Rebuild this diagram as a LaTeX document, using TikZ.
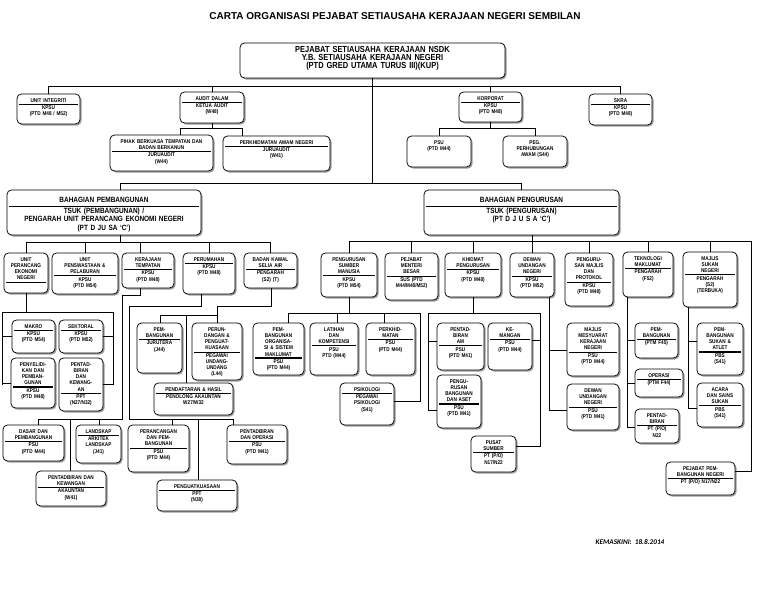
\documentclass[tikz,border=0pt]{standalone}
\usepackage{fontspec}
\setmainfont{Liberation Sans}
\newfontfamily\nar[FakeStretch=0.85]{Liberation Sans}
\newfontfamily\kemfont{Carlito}
\usetikzlibrary{fit,shadows}
\newcommand\dv{\\[-3pt]\rule[0.8pt]{\linewidth}{0.6pt}\\[-2pt]}
\newcommand\dvt{\\[-3pt]\rule[0.5pt]{\linewidth}{1.2pt}\\[-2pt]}
\newcommand\bx[7][]{%
  \node[box, fit={(#3,#4) (#5,#6)}] (#2) {};
  \pgfmathsetmacro\tw{#5-#3-4}%
  \node[txt, text width=\tw pt, anchor=north, #1] (#2-t) at ([yshift=-5pt]#2.north) {#7};
}
\begin{document}
\begin{tikzpicture}[x=1pt,y=-1pt,
  box/.style={draw, line width=0.75pt, rounded corners=4.5pt, fill=white, inner sep=0pt,
    drop shadow={shadow xshift=1.5pt, shadow yshift=-1.5pt, fill=black!55, opacity=0.7}},
  txt/.style={inner sep=0pt, align=center, font=\nar\fontsize{5.5}{6.1}\selectfont\bfseries},
  bah/.style={font=\nar\fontsize{7.6}{7.8}\selectfont\bfseries, yshift=-2.5pt},
  ln/.style={line width=0.7pt}]
\fill[white] (0,0) rectangle (768,594);
\useasboundingbox (0,0) rectangle (768,594);

\node[font=\fontsize{10}{12}\selectfont\bfseries] (title) at (395,16) {CARTA ORGANISASI PEJABAT SETIAUSAHA KERAJAAN NEGERI SEMBILAN};

% ---------- boxes ----------
\bx[font=\nar\fontsize{8.8}{7.7}\selectfont\bfseries, yshift=1pt]{top}{240}{43}{505}{78}{PEJABAT SETIAUSAHA KERAJAAN NSDK\\Y.B. SETIAUSAHA KERAJAAN NEGERI\\(PTD GRED UTAMA TURUS III)(KUP)}
\bx{ui}{17}{94}{80}{124}{UNIT INTEGRITI\dv KPSU\\(PTD M48 / M52)}
\bx{audit}{180}{92}{244}{123}{AUDIT DALAM\dvt KETUA AUDIT\\(W48)}
\bx{pbt}{110}{135}{213}{171}{PIHAK BERKUASA TEMPATAN DAN\\BADAN BERKANUN\dv JURUAUDIT\\(W44)}
\bx{pan}{223}{136}{330}{171}{PERKHIDMATAN AWAM NEGERI\dvt JURUAUDIT\\(W41)}
\bx{korp}{459}{92}{522}{122}{KORPORAT\dvt KPSU\\(PTD M48)}
\bx{psu1}{407}{136}{471}{167}{PSU\\(PTD M44)}
\bx{peg}{503}{136}{567}{167}{PEG.\\PERHUBUNGAN\\AWAM (S44)}
\bx{skra}{589}{94}{652}{125}{SKRA\dv KPSU\\(PTD M48)}

\bx[bah]{bpem}{7}{190}{201}{235}{BAHAGIAN PEMBANGUNAN\dvt TSUK (PEMBANGUNAN) /\\PENGARAH UNIT PERANCANG EKONOMI NEGERI\\[1.5pt](PT D JU SA ‘C’)}
\bx[bah]{bpeng}{424}{190}{619}{235}{BAHAGIAN PENGURUSAN\dvt TSUK (PENGURUSAN)\\(PT D J U S A ‘C’)}

\bx{upen}{4}{253}{48}{293}{UNIT\\PERANCANG\\EKONOMI\\NEGERI\\[-3pt]\rule[0.8pt]{\linewidth}{0.6pt}}
\bx{upp}{52}{253}{118}{294}{UNIT\\PENSWASTAAN \&\\PELABURAN\dvt KPSU\\(PTD M54)}
\bx{kt}{122}{253}{174}{288}{KERAJAAN\\TEMPATAN\dvt KPSU\\(PTD M48)}
\bx{perum}{183}{253}{235}{294}{PERUMAHAN\dv KPSU\\(PTD M48)}
\bx{bksa}{244}{253}{297}{288}{BADAN KAWAL\\SELIA AIR\dvt PENGARAH\\(S2) (T)}
\bx{psm}{321}{253}{377}{297}{PENGURUSAN\\SUMBER\\MANUSIA\dvt KPSU\\(PTD M54)}
\bx{pmb}{385}{253}{438}{300}{PEJABAT\\MENTERI\\BESAR\dv SUS (PTD\\M44/M48/M52)}
\bx{kp}{445}{253}{501}{297}{KHIDMAT\\PENGURUSAN\dv KPSU\\(PTD M48)}
\bx{dun}{510}{253}{554}{297}{DEWAN\\UNDANGAN\\NEGERI\dv KPSU\\(PTD M52)}
\bx{pmp}{565}{253}{613}{306}{PENGURU-\\SAN MAJLIS\\DAN\\PROTOKOL\dv KPSU\\(PTD M48)}
\bx{tm}{623}{252}{673}{297}{TEKNOLOGI\\MAKLUMAT\dv PENGARAH\\(F52)}
\bx{msn}{683}{252}{737}{307}{MAJLIS\\SUKAN\\NEGERI\dvt PENGARAH\\(S2)\\(TERBUKA)}

\bx{makro}{12}{320}{55}{353}{MAKRO\dv KPSU\\(PTD M54)}
\bx{sekt}{59}{320}{103}{353}{SEKTORAL\dv KPSU\\(PTD M52)}
\bx{penyel}{11}{358}{55}{408}{PENYELIDI-\\KAN DAN\\PEMBAN-\\GUNAN\dvt KPSU\\(PTD M48)}
\bx{pentk}{59}{358}{103}{411}{PENTAD-\\BIRAN\\DAN\\KEWANG-\\AN\dv PPT\\(N27/N32)}
\bx{pemjur}{137}{323}{182}{373}{PEM-\\BANGUNAN\dvt JURUTERA\\(J44)}
\bx{perund}{192}{323}{242}{380}{PERUN-\\DANGAN \&\\PENGUAT-\\KUASAAN\dv PEGAWAI\\UNDANG-\\UNDANG\\(L44)}
\bx{pendaf}{154}{383}{233}{415}{PENDAFTARAN \& HASIL\dv PENOLONG AKAUNTAN\\W27/W32}
\bx{dasar}{3}{425}{64}{461}{DASAR DAN\\PEMBANGUNAN\dv PSU\\(PTD M44)}
\bx{landskap}{76}{425}{121}{463}{LANDSKAP\dvt ARKITEK\\LANDSKAP\\(J41)}
\bx{pentak}{36}{471}{106}{506}{PENTADBIRAN DAN\\KEWANGAN\dv AKAUNTAN\\(W41)}
\bx{peranc}{128}{425}{189}{472}{PERANCANGAN\\DAN PEM-\\BANGUNAN\dv PSU\\(PTD M44)}
\bx{penguat}{157}{480}{237}{511}{PENGUATKUASAAN\dv PPT\\(N38)}
\bx{pentop}{227}{425}{287}{464}{PENTADBIRAN\\DAN OPERASI\dv PSU\\(PTD M41)}

\bx{pemorg}{253}{323}{304}{375}{PEM-\\BANGUNAN\\ORGANISA-\\SI \& SISTEM\\MAKLUMAT\dvt PSU\\(PTD M44)}
\bx{latihan}{310}{323}{358}{375}{LATIHAN\\DAN\\KOMPETENSI\dvt PSU\\PTD (M44)}
\bx{perkhid}{366}{323}{415}{375}{PERKHID-\\MATAN\dv PSU\\(PTD M44)}
\bx{psiko}{340}{383}{394}{425}{PSIKOLOGI\dv PEGAWAI\\PSIKOLOGI\\(S41)}
\bx{pam}{437}{323}{484}{370}{PENTAD-\\BIRAN\\AM\dvt PSU\\(PTD M41)}
\bx{kem}{488}{323}{532}{370}{KE-\\MANGAN\dvt PSU\\(PTD M44)}
\bx{pba}{437}{375}{481}{428}{PENGU-\\RUSAN\\BANGUNAN\\DAN ASET\dvt PSU\\(PTD M41)}
\bx{pusat}{471}{436}{516}{472}{PUSAT\\SUMBER\dv PT (P/O)\\N17/N22}
\bx{mmkn}{567}{323}{619}{376}{MAJLIS\\MESYUARAT\\KERAJAAN\\NEGERI\dv PSU\\(PTD M44)}
\bx{dun2}{567}{384}{619}{430}{DEWAN\\UNDANGAN\\NEGERI\dv PSU\\(PTD M41)}
\bx{pemtm}{635}{323}{678}{358}{PEM-\\BANGUNAN\dvt (PTM F45)}
\bx{operasi}{635}{369}{683}{397}{OPERASI\dv (PTM F44)}
\bx{pentm}{635}{409}{679}{443}{PENTAD-\\BIRAN\dvt PT (P/O)\\N22}
\bx{pemsukan}{697}{323}{743}{375}{PEM-\\BANGUNAN\\SUKAN \&\\ATLET\dvt PBS\\(S41)}
\bx{acara}{697}{383}{743}{427}{ACARA\\DAN SAINS\\SUKAN\dvt PBS\\(S41)}
\bx{ppn}{666}{462}{735}{495}{PEJABAT PEM-\\BANGUNAN NEGERI\dv PT (P/O) N17/N22}

\node[font=\kemfont\bfseries\itshape\fontsize{7.2}{8}\selectfont] (upd) at (630,542) {KEMASKINI:\ \ 18.8.2014};

% ---------- connectors ----------
% top level
\draw[ln] (top.south) -- (372.5,183);
\draw[ln] (ui.north) -- (48.5,86) -- (620.5,86) -- (skra.north);
\draw[ln] (212,86) -- (audit.north);
\draw[ln] (490.5,86) -- (korp.north);
% audit
\draw[ln] (audit.south) -- (212,128);
\draw[ln] (180,135) -- (180,128) -- (242,128) -- (242,136);
% korporat
\draw[ln] (korp.south) -- (490.5,128);
\draw[ln] (psu1.north) -- (439,128) -- (535,128) -- (peg.north);
% bahagian
\draw[ln] (120,190) -- (120,183) -- (521.5,183) -- (bpeng.north);
% pembangunan bus
\draw[ln] (120,235) -- (120,242);
\draw[ln] (26,253) -- (26,242) -- (270.5,242) -- (bksa.north);
\draw[ln] (85,242) -- (upp.north);
\draw[ln] (140,242) -- (140,253);
\draw[ln] (209,242) -- (perum.north);
% pengurusan bus
\draw[ln] (532,235) -- (532,253);
\draw[ln] (349,253) -- (349,241) -- (751,241) -- (751,471) -- (735,471);
\draw[ln] (411.5,241) -- (pmb.north);
\draw[ln] (473,241) -- (kp.north);
\draw[ln] (589,241) -- (pmp.north);
\draw[ln] (648,241) -- (tm.north);
\draw[ln] (710,241) -- (msn.north);
% UPEN
\draw[ln] (26,293) -- (26,312);
\draw[ln] (2,385) -- (2,312) -- (113,312) -- (113,385);
\draw[ln] (2,336.5) -- (makro.west);
\draw[ln] (sekt.east) -- (113,336.5);
\draw[ln] (2,383) -- (penyel.west);
\draw[ln] (pentk.east) -- (113,384.5);
% kerajaan tempatan
\draw[ln] (140,288) -- (140,295) -- (122,295) -- (122,419) -- (38,419) -- (38,425);
\draw[ln] (70,419) -- (70,471);
\draw[ln] (99,419) -- (99,425);
% perumahan
\draw[ln] (201,294) -- (201,306) -- (129,306) -- (129,419) -- (233,419) -- (233,425);
\draw[ln] (172,419) -- (172,425);
\draw[ln] (198,419) -- (198,480);
% badan kawal selia air
\draw[ln] (271,288) -- (271,306) -- (217,306) -- (217,323);
\draw[ln] (160,323) -- (160,315) -- (217,315);
\draw[ln] (186,315) -- (186,383);
% PSM
\draw[ln] (psm.south) -- (349,313);
\draw[ln] (288,323) -- (288,313) -- (420,313) -- (420,401) -- (394,401);
\draw[ln] (337,313) -- (337,323);
\draw[ln] (384,313) -- (384,323);
% khidmat pengurusan
\draw[ln] (kp.south) -- (473,313);
\draw[ln] (437,341) -- (428,341) -- (428,313) -- (540,313) -- (540,446) -- (516,446);
\draw[ln] (428,341) -- (428,410) -- (437,410);
\draw[ln] (532,340) -- (540,340);
% DUN
\draw[ln] (549,297) -- (549,410) -- (567,410);
\draw[ln] (549,350) -- (567,350);
% TM
\draw[ln] (627,297) -- (627,427) -- (635,427);
\draw[ln] (627,340) -- (635,340);
\draw[ln] (627,383) -- (operasi.west);
% MSN
\draw[ln] (688,307) -- (688,408) -- (697,408);
\draw[ln] (688,341) -- (697,341);
\end{tikzpicture}
\end{document}
